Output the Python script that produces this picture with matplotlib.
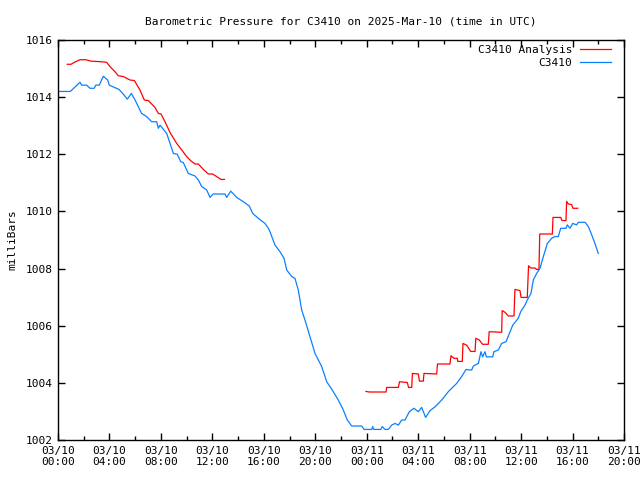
import matplotlib
matplotlib.use("Agg")
import matplotlib.pyplot as plt
import numpy as np

# hours since 2025-03-10 00:00 UTC
station_hours = [0.0, 0.96, 1.71, 1.84, 2.23, 2.49, 2.82, 2.93, 3.21, 3.52, 3.86, 3.99, 4.38, 4.74,
                 5.03, 5.39, 5.70, 5.99, 6.50, 6.89, 7.28, 7.67, 7.80, 7.93, 8.45, 8.71, 8.97, 9.27,
                 9.54, 9.74, 9.95, 10.13, 10.65, 10.91, 11.17, 11.56, 11.82, 12.07, 12.98, 13.11,
                 13.43, 13.89, 14.41, 14.87, 15.14, 15.57, 16.09, 16.35, 16.48, 16.87, 17.26, 17.57,
                 17.78, 18.17, 18.42, 18.68, 18.94, 19.20, 19.59, 19.98, 20.50, 20.89, 21.40, 21.79,
                 22.18, 22.49, 22.83, 23.61, 23.79, 24.39, 24.46, 24.55, 25.09, 25.21, 25.42, 25.68,
                 25.94, 26.20, 26.46, 26.72, 26.98, 27.31, 27.67, 28.01, 28.27, 28.58, 28.92, 29.31,
                 29.83, 30.34, 30.99, 31.38, 31.72, 31.98, 32.16, 32.29, 32.68, 32.88, 33.01, 33.19,
                 33.30, 33.79, 33.89, 34.23, 34.49, 34.83, 35.35, 35.78, 35.97, 36.30, 36.48, 36.77,
                 36.95, 37.21, 37.47, 37.73, 38.04, 38.38, 38.63, 38.89, 39.08, 39.49, 39.59, 39.80,
                 40.01, 40.32, 40.45, 40.97, 41.23, 41.49, 41.74, 42.00]
station_mb = [1014.20, 1014.20, 1014.52, 1014.42, 1014.42, 1014.31, 1014.31, 1014.42, 1014.42, 1014.73,
              1014.60, 1014.42, 1014.34, 1014.27, 1014.13, 1013.93, 1014.13, 1013.90, 1013.43, 1013.32,
              1013.14, 1013.14, 1012.91, 1013.02, 1012.73, 1012.38, 1012.03, 1012.00, 1011.74, 1011.71,
              1011.51, 1011.33, 1011.24, 1011.10, 1010.87, 1010.75, 1010.49, 1010.61, 1010.61, 1010.49,
              1010.71, 1010.49, 1010.34, 1010.19, 1009.93, 1009.76, 1009.58, 1009.41, 1009.29, 1008.82,
              1008.59, 1008.36, 1007.95, 1007.72, 1007.66, 1007.25, 1006.55, 1006.20, 1005.62, 1005.03,
              1004.57, 1004.04, 1003.69, 1003.40, 1003.05, 1002.70, 1002.49, 1002.49, 1002.37, 1002.37,
              1002.47, 1002.37, 1002.37, 1002.47, 1002.37, 1002.37, 1002.52, 1002.58, 1002.52, 1002.70,
              1002.70, 1002.99, 1003.11, 1002.99, 1003.14, 1002.79, 1003.03, 1003.16, 1003.40, 1003.69,
              1003.98, 1004.22, 1004.47, 1004.45, 1004.45, 1004.59, 1004.68, 1005.09, 1004.91, 1005.09,
              1004.91, 1004.91, 1005.09, 1005.15, 1005.38, 1005.44, 1006.02, 1006.26, 1006.49, 1006.72,
              1006.90, 1007.13, 1007.60, 1007.83, 1008.01, 1008.42, 1008.88, 1009.06, 1009.12, 1009.12,
              1009.41, 1009.41, 1009.53, 1009.41, 1009.58, 1009.53, 1009.62, 1009.62, 1009.47, 1009.18,
              1008.88, 1008.53]

analysis1_hours = [0.72, 1.01, 1.32, 1.71, 2.15, 2.57, 3.34, 3.78, 4.04, 4.43, 4.69, 5.08, 5.60, 5.94,
                   6.37, 6.71, 7.02, 7.54, 7.80, 8.01, 8.32, 8.71, 9.23, 9.62, 10.00, 10.31, 10.65,
                   10.91, 11.30, 11.69, 12.02, 12.33, 12.67, 12.93]
analysis1_mb = [1015.15, 1015.15, 1015.23, 1015.31, 1015.31, 1015.26, 1015.24, 1015.22, 1015.07, 1014.89,
                1014.75, 1014.72, 1014.60, 1014.58, 1014.25, 1013.90, 1013.88, 1013.64, 1013.43, 1013.41,
                1013.14, 1012.76, 1012.38, 1012.15, 1011.92, 1011.78, 1011.66, 1011.66, 1011.47, 1011.31,
                1011.31, 1011.22, 1011.12, 1011.12]

analysis2_hours = [23.94, 24.20, 25.50, 25.55, 26.46, 26.55, 27.16, 27.25, 27.50, 27.55, 28.01, 28.10,
                   28.40, 28.45, 29.44, 29.50, 30.47, 30.55, 30.78, 31.04, 31.08, 31.43, 31.48, 31.77,
                   32.08, 32.42, 32.48, 32.75, 33.01, 33.45, 33.52, 34.49, 34.53, 34.75, 35.01, 35.45,
                   35.52, 35.91, 36.00, 36.48, 36.58, 36.74, 37.08, 37.21, 37.39, 37.45, 38.43, 38.48,
                   39.08, 39.18, 39.49, 39.54, 39.67, 39.93, 40.03, 40.40]
analysis2_mb = [1003.70, 1003.68, 1003.68, 1003.84, 1003.84, 1004.04, 1004.01, 1003.84, 1003.84, 1004.33,
                1004.31, 1004.06, 1004.06, 1004.33, 1004.31, 1004.66, 1004.66, 1004.95, 1004.86, 1004.86,
                1004.75, 1004.75, 1005.38, 1005.32, 1005.10, 1005.10, 1005.56, 1005.50, 1005.35, 1005.35,
                1005.79, 1005.77, 1006.53, 1006.47, 1006.34, 1006.34, 1007.27, 1007.23, 1006.99, 1006.99,
                1008.10, 1008.02, 1008.02, 1007.97, 1007.97, 1009.21, 1009.21, 1009.79, 1009.79, 1009.68,
                1009.68, 1010.35, 1010.26, 1010.24, 1010.11, 1010.11]

x_tick_hours = [0, 4, 8, 12, 16, 20, 24, 28, 32, 36, 40, 44]
x_tick_labels = ["03/10\n00:00", "03/10\n04:00", "03/10\n08:00", "03/10\n12:00", "03/10\n16:00",
                 "03/10\n20:00", "03/11\n00:00", "03/11\n04:00", "03/11\n08:00", "03/11\n12:00",
                 "03/11\n16:00", "03/11\n20:00"]
y_ticks = [1002, 1004, 1006, 1008, 1010, 1012, 1014, 1016]

plt.rcParams['font.family'] = ['DejaVu Sans Mono']
fs = 8

fig = plt.figure(figsize=(6.4, 4.8), dpi=100)
ax = fig.add_axes([58/640, 40/480, 566/640, 400/480])

red = '#ff0000'
blue = '#0a80ff'
ax.plot(analysis1_hours, analysis1_mb, color=red, lw=0.9, label='C3410 Analysis')
ax.plot(analysis2_hours, analysis2_mb, color=red, lw=0.9)
ax.plot(station_hours, station_mb, color=blue, lw=0.9, label='C3410')

ax.set_xlim(0, 44)
ax.set_ylim(1002, 1016)
ax.set_xticks(x_tick_hours)
ax.set_xticklabels(x_tick_labels, fontsize=fs)
ax.set_xticks(np.arange(2, 44, 4), minor=True)
ax.set_yticks(y_ticks)
ax.set_yticklabels([str(v) for v in y_ticks], fontsize=fs)
ax.tick_params(which='both', direction='in', top=True, right=True, length=5, width=1, pad=4)
ax.tick_params(which='minor', length=3)
for s in ax.spines.values():
    s.set_linewidth(1.0)

ax.set_ylabel('milliBars', fontsize=fs, labelpad=6)
ax.set_title('Barometric Pressure for C3410 on 2025-Mar-10 (time in UTC)', fontsize=fs, pad=11)

leg = ax.legend(loc='upper right', bbox_to_anchor=((616 - 58) / 566, 1.0), frameon=False,
                fontsize=fs, markerfirst=False,
                handlelength=2.8, handletextpad=0.7, labelspacing=0.25, borderaxespad=0.15,
                borderpad=0.3)
for t in leg.get_texts():
    t.set_ha('right')

fig.savefig('out.png', dpi=100)
